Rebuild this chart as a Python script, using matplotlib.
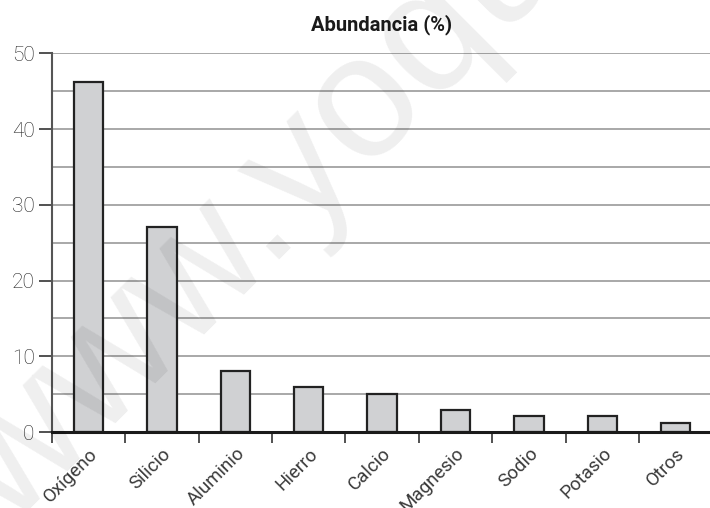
import matplotlib
matplotlib.use("Agg")
import matplotlib.pyplot as plt
import numpy as np

elementos = ["Oxígeno", "Silicio", "Aluminio", "Hierro", "Calcio",
             "Magnesio", "Sodio", "Potasio", "Otros"]
abundancia = [46.3, 27.1, 8.0, 6.0, 5.0, 2.9, 2.1, 2.1, 1.2]
marcas_y = [0, 10, 20, 30, 40, 50]

plt.rcParams["font.family"] = ["Roboto", "DejaVu Sans"]

fig = plt.figure(figsize=(7.1, 5.08), dpi=100)
ax = fig.add_axes([0.0732, 0.1496, 0.93, 0.7451])

x = np.arange(len(elementos))
ax.bar(x, abundancia, width=0.4, color="#d0d1d3", edgecolor="#222222",
       linewidth=1.6, zorder=3)

ax.set_xlim(-0.5, len(elementos) - 0.5)
ax.set_ylim(0, 50)

# rejilla cada 5 unidades
for y in np.arange(5, 51, 5):
    ax.axhline(y, color="#9a9a9a", linewidth=1.2, zorder=1)

ax.set_yticks(marcas_y)
ax.set_yticklabels([str(v) for v in marcas_y], fontsize=15, fontweight="light",
                   color="#222222")
ax.tick_params(axis="y", direction="out", length=9.5, width=1.2, color="#333333",
               pad=3)

# etiquetas en el centro, marcas en los bordes de cada categoria
ax.set_xticks(x)
ax.set_xticklabels(elementos, rotation=45, ha="right", va="top",
                   rotation_mode="anchor", fontsize=13.5, fontweight="normal",
                   color="#3a3a3a")
ax.tick_params(axis="x", which="major", length=0, pad=9)
ax.set_xticks(np.arange(-0.5, len(elementos) - 0.5), minor=True)
ax.tick_params(axis="x", which="minor", direction="out", length=8, width=1.2,
               color="#333333")

for s in ["top", "right"]:
    ax.spines[s].set_visible(False)
ax.spines["left"].set_color("#555555")
ax.spines["left"].set_linewidth(1.5)
ax.spines["bottom"].set_color("#1a1a1a")
ax.spines["bottom"].set_linewidth(2.2)
ax.spines["bottom"].set_zorder(4)

fig.text(0.537, 0.951, "Abundancia (%)", ha="center", va="center",
         fontsize=14.5, fontweight="bold", color="#1a1a1a")

fig.text(10 / 710, 1 - 530 / 508, "www.yoquieroaprobar.es", fontsize=125,
         family="Liberation Sans", color="black", alpha=0.065, rotation=45,
         rotation_mode="anchor", ha="left", va="baseline", zorder=10)

fig.savefig("out.png", dpi=100)
